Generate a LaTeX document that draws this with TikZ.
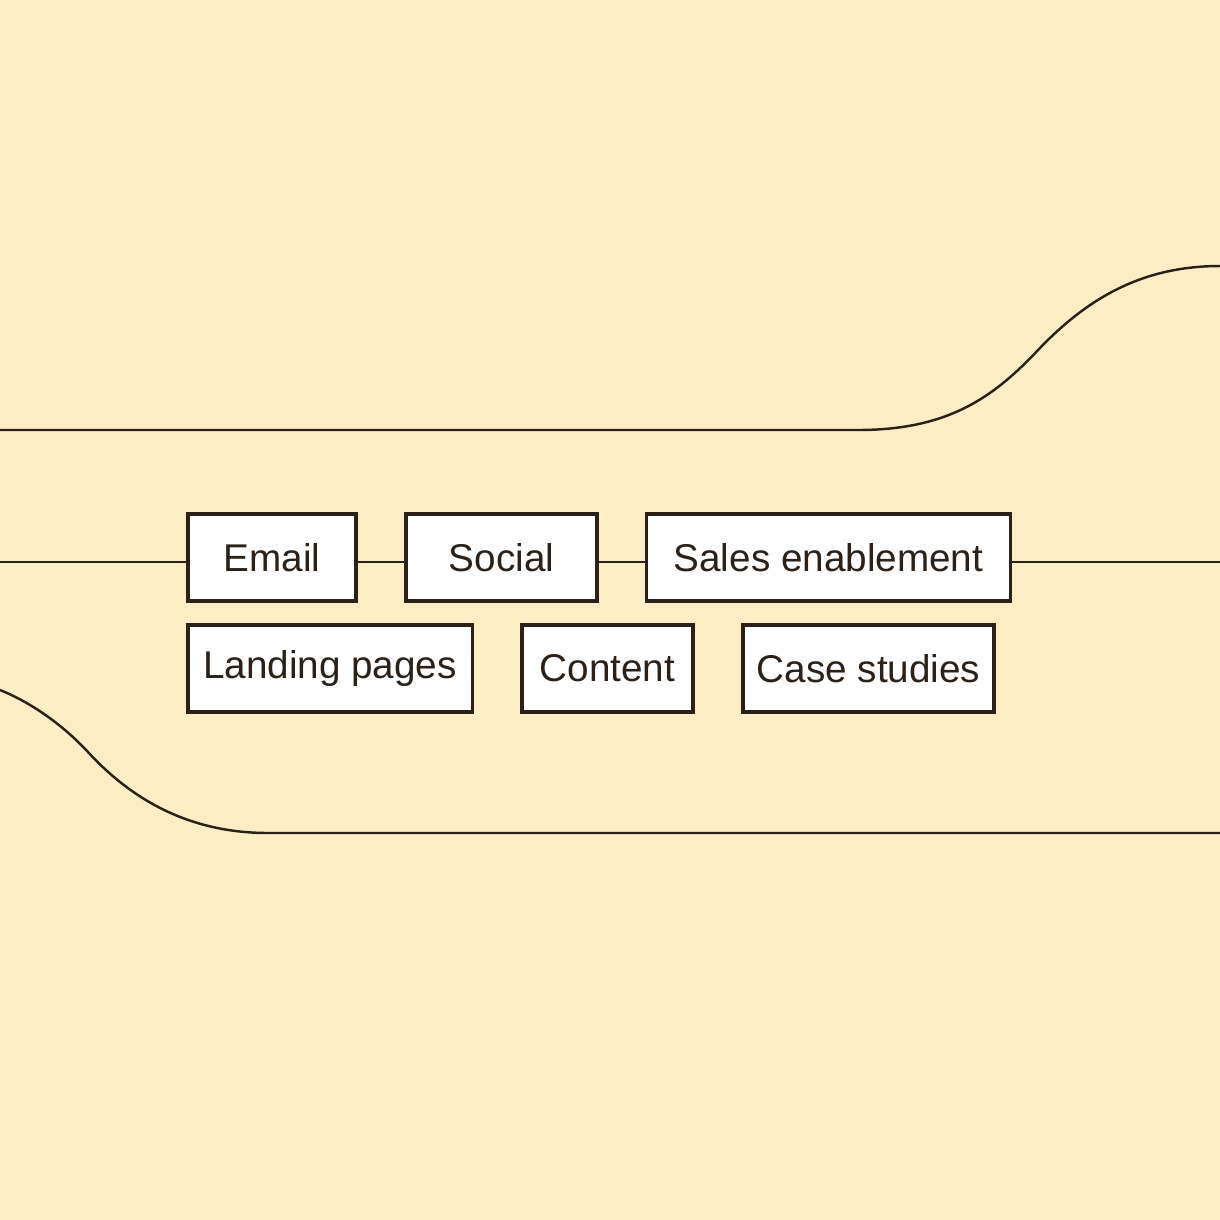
\documentclass[tikz,border=0pt]{standalone}
\usepackage{fontspec}
\setmainfont{Liberation Sans}
\definecolor{paper}{HTML}{FDEDC4}
\definecolor{ink}{HTML}{2B2118}
\tikzset{
  chan/.style={draw=ink,fill=white,line width=0.9pt,minimum height=0.87cm,inner sep=0pt,
    font=\fontsize{11pt}{13pt}\selectfont,text=ink},
  wire/.style={draw=ink,line width=0.7pt}
}
\begin{document}
\begin{tikzpicture}[x=0.01cm,y=-0.01cm]
  \fill[paper] (0,0) rectangle (1220,1220);
  \useasboundingbox (0,0) rectangle (1220,1220);
  % channel boxes
  \node[chan,minimum width=1.68cm] (email) at (272,557.5) {Email};
  \node[chan,minimum width=1.91cm] (social) at (501.5,557.5) {Social};
  \node[chan,minimum width=3.63cm] (sales) at (828.5,557.5) {Sales enablement};
  \node[chan,minimum width=2.84cm] (landing) at (330,668.5) {Landing pages};
  \node[chan,minimum width=1.71cm] (content) at (607.5,668.5) {Content};
  \node[chan,minimum width=2.51cm] (cases) at (868.5,668.5) {Case studies};
  \coordinate (inL) at (0,562);
  \coordinate (outR) at (1220,562);
  \path[wire] (inL) -- (inL -| email.west);
  \path[wire] (email.east |- inL) -- (social.west |- inL);
  \path[wire] (social.east |- inL) -- (sales.west |- inL);
  \path[wire] (sales.east |- outR) -- (outR);
  % outer curves
  \path[wire] (0,430) -- (858,430) .. controls (950,430) and (995,396) .. (1040,348)
     .. controls (1090,296) and (1145,266) .. (1220,266);
  \path[wire] (0,690) .. controls (30,702) and (62,724) .. (88,752)
     .. controls (132,800) and (190,833) .. (268,833) -- (1220,833);
\end{tikzpicture}
\end{document}
